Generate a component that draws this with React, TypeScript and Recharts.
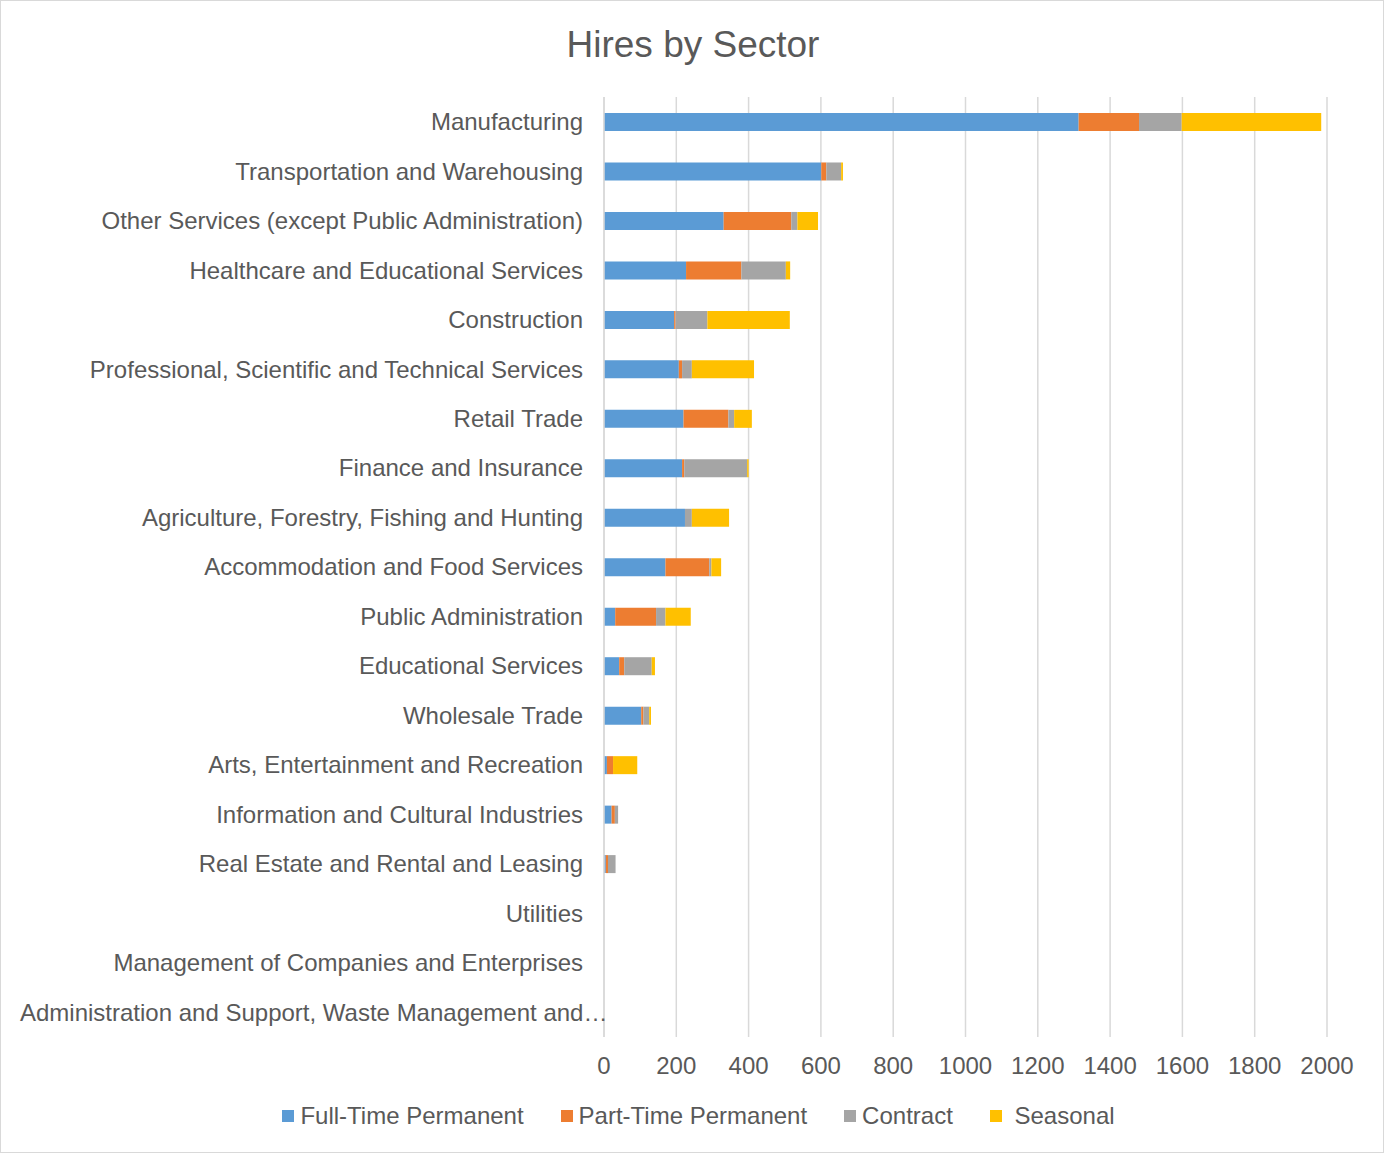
import React from 'react';
import { BarChart, Bar, XAxis, YAxis, CartesianGrid, Legend } from 'recharts';

const sectors = [
  'Manufacturing',
  'Transportation and Warehousing',
  'Other Services (except Public Administration)',
  'Healthcare and Educational Services',
  'Construction',
  'Professional, Scientific and Technical Services',
  'Retail Trade',
  'Finance and Insurance',
  'Agriculture, Forestry, Fishing and Hunting',
  'Accommodation and Food Services',
  'Public Administration',
  'Educational Services',
  'Wholesale Trade',
  'Arts, Entertainment and Recreation',
  'Information and Cultural Industries',
  'Real Estate and Rental and Leasing',
  'Utilities',
  'Management of Companies and Enterprises',
  'Administration and Support, Waste Management and Remediation Services',
];

const fullTimePermanent = [1313, 601, 331, 227, 194, 207, 220, 216, 224, 170, 31, 42, 103, 8, 21, 5, 0, 0, 0];
const partTimePermanent = [167, 14, 187, 153, 4, 9, 124, 6, 0, 121, 113, 14, 6, 17, 9, 6, 0, 0, 0];
const contract = [118, 41, 17, 123, 88, 27, 16, 174, 19, 6, 26, 76, 16, 0, 9, 21, 0, 0, 0];
const seasonal = [386, 5, 57, 12, 228, 172, 49, 4, 103, 27, 70, 9, 5, 67, 0, 0, 0, 0, 0];

const xTicks = [0, 200, 400, 600, 800, 1000, 1200, 1400, 1600, 1800, 2000];

const seriesDefs = [
  { key: 'ftp', name: 'Full-Time Permanent', color: '#5B9BD5', values: fullTimePermanent },
  { key: 'ptp', name: 'Part-Time Permanent', color: '#ED7D31', values: partTimePermanent },
  { key: 'con', name: 'Contract', color: '#A5A5A5', values: contract },
  { key: 'sea', name: ' Seasonal', color: '#FFC000', values: seasonal },
];

const data = sectors.map((s, i) => {
  const row: any = { sector: s };
  seriesDefs.forEach((d) => {
    row[d.key] = d.values[i];
  });
  return row;
});

const FONT = '"Liberation Sans", Arial, sans-serif';
const TEXT = '#595959';
const MAX_LABEL = 48;

const YTick = (props: any) => {
  const { x, y, payload } = props;
  const v: string = payload.value;
  if (v.length > MAX_LABEL) {
    const t = v.slice(0, MAX_LABEL).trimEnd() + '…';
    return (
      <text x={20} y={y} dy="0.35em" textAnchor="start" fill={TEXT} fontSize={24} fontFamily={FONT}>
        {t}
      </text>
    );
  }
  return (
    <text x={x} y={y} dy="0.35em" textAnchor="end" fill={TEXT} fontSize={24} fontFamily={FONT}>
      {v}
    </text>
  );
};

const LegendContent = () => (
  <div
    style={{
      height: 66,
      display: 'flex',
      justifyContent: 'center',
      alignItems: 'flex-start',
      paddingTop: 15,
      boxSizing: 'border-box',
      fontFamily: FONT,
      fontSize: 24,
      color: TEXT,
      paddingLeft: 70,
    }}
  >
    {seriesDefs.map((d, i) => (
      <div
        key={d.key}
        style={{ display: 'flex', alignItems: 'center', marginLeft: i === 0 ? 0 : 37, whiteSpace: 'pre' }}
      >
        <span style={{ display: 'inline-block', width: 12, height: 12, background: d.color, marginRight: 6 }} />
        <span style={{ lineHeight: '28px' }}>{d.name}</span>
      </div>
    ))}
  </div>
);

export default function App() {
  return (
    <div
      style={{
        position: 'absolute',
        left: 0,
        top: 0,
        width: 1384,
        height: 1153,
        border: '1px solid #D9D9D9',
        boxSizing: 'border-box',
        background: '#fff',
      }}
    >
      <div
        style={{
          position: 'absolute',
          left: 0,
          top: 20,
          width: 1384,
          textAlign: 'center',
          fontFamily: FONT,
          fontSize: 37,
          color: TEXT,
          lineHeight: '48px',
        }}
      >
        Hires by Sector
      </div>
      <div style={{ position: 'absolute', left: -1, top: -1 }}>
        <BarChart
          width={1384}
          height={1153}
          data={data}
          layout="vertical"
          margin={{ top: 97, right: 57, left: 0, bottom: 0 }}
          barSize={18}
        >
          <CartesianGrid horizontal={false} stroke="#D9D9D9" strokeWidth={1.5} />
          <XAxis
            type="number"
            domain={[0, 2000]}
            ticks={xTicks}
            axisLine={false}
            tickLine={false}
            tickSize={0}
            tickMargin={20}
            height={50}
            tick={{ fill: TEXT, fontSize: 24, fontFamily: FONT }}
            interval={0}
          />
          <YAxis
            type="category"
            dataKey="sector"
            width={604}
            axisLine={{ stroke: '#D9D9D9', strokeWidth: 1.5 }}
            tickLine={false}
            tickSize={0}
            tickMargin={21}
            interval={0}
            tick={<YTick />}
          />
          <Legend verticalAlign="bottom" align="center" content={<LegendContent />} />
          {seriesDefs.map((d) => (
            <Bar key={d.key} dataKey={d.key} name={d.name} stackId="a" fill={d.color} isAnimationActive={false} />
          ))}
        </BarChart>
      </div>
    </div>
  );
}
